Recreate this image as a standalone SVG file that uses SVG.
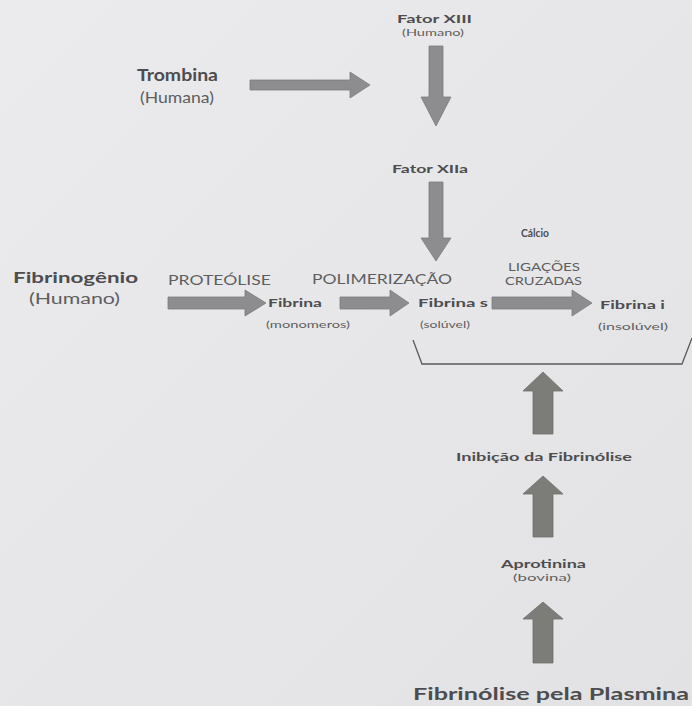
<svg xmlns="http://www.w3.org/2000/svg" width="692" height="706" viewBox="0 0 692 706">
  <defs>
    <linearGradient id="bg" x1="0" y1="0" x2="1" y2="1">
      <stop offset="0" stop-color="#ebebee"/>
      <stop offset="0.6" stop-color="#e6e6e9"/>
      <stop offset="1" stop-color="#e2e2e4"/>
    </linearGradient>
  </defs>
  <style>
    text { font-family: Lato, "Open Sans", "Liberation Sans", sans-serif; }
    .b { font-weight: 700; fill: #4d4d4f; }
    .r { font-weight: 400; fill: #5e5e60; }
    .arr { fill: #8d8d8f; stroke: #7c7c7e; stroke-width: 0.8; }
    .up { fill: #7c7d78; stroke: #6f706b; stroke-width: 0.8; }
    .br { fill: none; stroke: #5a5a5c; stroke-width: 1.3; }
  </style>
  <rect width="692" height="706" fill="url(#bg)"/>

  <g id="fator-xiii">
    <text class="b" x="397" y="23" font-size="11.5" textLength="75" lengthAdjust="spacingAndGlyphs">Fator XIII</text>
    <text class="r" x="402" y="36" font-size="10" textLength="62" lengthAdjust="spacingAndGlyphs">(Humano)</text>
  </g>
  <g id="trombina">
    <text class="b" x="137" y="81" font-size="17" textLength="81" lengthAdjust="spacingAndGlyphs">Trombina</text>
    <text class="r" x="140" y="103" font-size="16" textLength="74" lengthAdjust="spacingAndGlyphs">(Humana)</text>
  </g>
  <g id="fator-xiia">
    <text class="b" x="392" y="173" font-size="11.5" textLength="76" lengthAdjust="spacingAndGlyphs">Fator XIIa</text>
  </g>
  <g id="calcio">
    <text class="b" x="521" y="237" font-size="10.5" textLength="28" lengthAdjust="spacingAndGlyphs">Cálcio</text>
  </g>
  <g id="fibrinogenio">
    <text class="b" x="13" y="283" font-size="16" textLength="125" lengthAdjust="spacingAndGlyphs">Fibrinogênio</text>
    <text class="r" x="29" y="304" font-size="15.5" textLength="91" lengthAdjust="spacingAndGlyphs">(Humano)</text>
  </g>
  <g id="fibrina-monomeros">
    <text class="b" x="268" y="307" font-size="10.5" textLength="54" lengthAdjust="spacingAndGlyphs">Fibrina</text>
    <text class="r" x="266" y="328" font-size="10" textLength="84" lengthAdjust="spacingAndGlyphs">(monomeros)</text>
  </g>
  <g id="fibrina-s">
    <text class="b" x="418" y="307" font-size="10.5" textLength="70" lengthAdjust="spacingAndGlyphs">Fibrina s</text>
    <text class="r" x="420" y="328" font-size="10" textLength="50" lengthAdjust="spacingAndGlyphs">(solúvel)</text>
  </g>
  <g id="fibrina-i">
    <text class="b" x="600" y="309" font-size="10.5" textLength="65" lengthAdjust="spacingAndGlyphs">Fibrina i</text>
    <text class="r" x="598" y="330" font-size="10" textLength="70" lengthAdjust="spacingAndGlyphs">(insolúvel)</text>
  </g>
  <g id="inibicao">
    <text class="b" x="456" y="461" font-size="10.5" textLength="176" lengthAdjust="spacingAndGlyphs">Inibição da Fibrinólise</text>
  </g>
  <g id="aprotinina">
    <text class="b" x="501" y="568" font-size="10.5" textLength="85" lengthAdjust="spacingAndGlyphs">Aprotinina</text>
    <text class="r" x="513" y="581" font-size="9.5" textLength="58" lengthAdjust="spacingAndGlyphs">(bovina)</text>
  </g>
  <g id="fibrinolise-plasmina">
    <text class="b" x="413" y="700" font-size="17" textLength="276" lengthAdjust="spacingAndGlyphs">Fibrinólise pela Plasmina</text>
  </g>

  <g id="connectors">
    <polygon class="arr" points="250,80 350,80 350,72 370,85 350,98 350,90 250,90"/>
    <polygon class="arr" points="429,46 443,46 443,97 451,97 436,126 421,97 429,97"/>
    <polygon class="arr" points="429,182 443,182 443,238 451,238 436,261 421,238 429,238"/>
    <polygon class="arr" points="168,297 245,297 245,290 266,303 245,316 245,309 168,309"/>
    <polygon class="arr" points="340,297 390,297 390,290 409,303 390,316 390,309 340,309"/>
    <polygon class="arr" points="492,297 572,297 572,290 592,303 572,316 572,309 492,309"/>
    <text class="r" x="168" y="285" font-size="12.5" textLength="103" lengthAdjust="spacingAndGlyphs">PROTEÓLISE</text>
    <text class="r" x="312" y="284" font-size="12.5" textLength="140" lengthAdjust="spacingAndGlyphs">POLIMERIZAÇÃO</text>
    <text class="r" x="508" y="271" font-size="12" textLength="72" lengthAdjust="spacingAndGlyphs">LIGAÇÕES</text>
    <text class="r" x="505" y="285" font-size="12" textLength="77" lengthAdjust="spacingAndGlyphs">CRUZADAS</text>
    <polyline class="br" points="413,340 422,364 682,364 692,338"/>
    <polygon class="up" points="533,434 533,391 523,391 543,372 563,391 553,391 553,434"/>
    <polygon class="up" points="533,537 533,494 523,494 543,476 563,494 553,494 553,537"/>
    <polygon class="up" points="533,663 533,619 523,619 543,602 563,619 553,619 553,663"/>
  </g>
</svg>
